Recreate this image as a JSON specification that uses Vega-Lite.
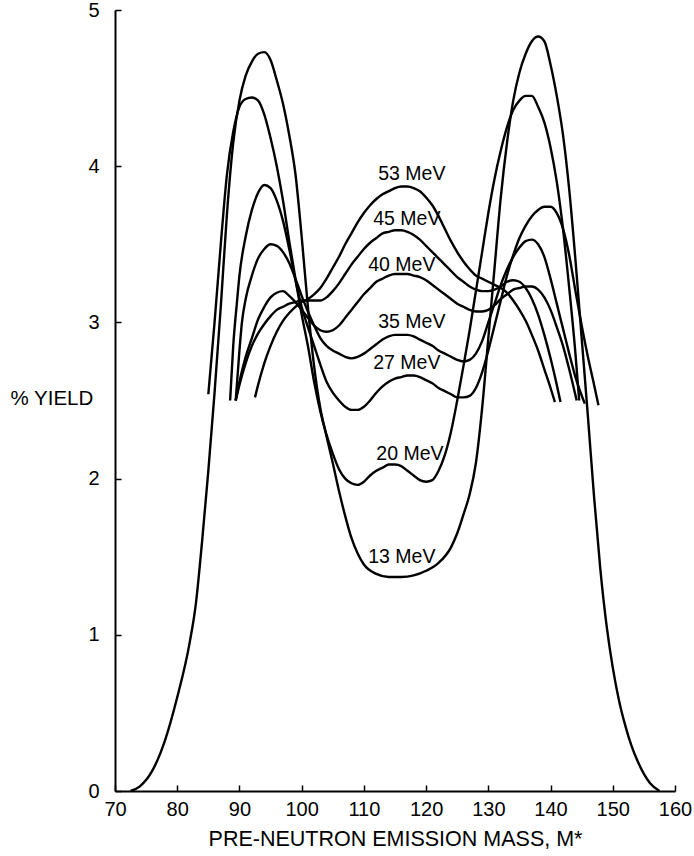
{
  "$schema": "https://vega.github.io/schema/vega-lite/v6.json",
  "width": 560,
  "height": 781,
  "autosize": "none",
  "padding": {"left": 115, "top": 10, "right": 19, "bottom": 65},
  "background": "white",
  "config": {"view": {"stroke": null}, "font": "Liberation Sans"},
  "datasets": {
    "curves": [
      {"c":"13","m":72.5,"v":0},{"c":"13","m":74,"v":0.03},{"c":"13","m":76,"v":0.13},{"c":"13","m":78,"v":0.32},{"c":"13","m":80,"v":0.6},{"c":"13","m":82,"v":0.95},{"c":"13","m":83,"v":1.2},{"c":"13","m":84,"v":1.6},{"c":"13","m":85,"v":2.05},{"c":"13","m":86,"v":2.55},{"c":"13","m":87,"v":3.1},{"c":"13","m":88,"v":3.7},{"c":"13","m":89,"v":4.15},{"c":"13","m":90,"v":4.42},{"c":"13","m":91,"v":4.58},{"c":"13","m":92,"v":4.67},{"c":"13","m":93,"v":4.72},{"c":"13","m":94,"v":4.73},{"c":"13","m":95,"v":4.68},{"c":"13","m":96,"v":4.55},{"c":"13","m":97,"v":4.4},{"c":"13","m":98,"v":4.2},{"c":"13","m":99,"v":3.95},{"c":"13","m":100,"v":3.55},{"c":"13","m":101,"v":3.1},{"c":"13","m":102,"v":2.72},{"c":"13","m":103,"v":2.45},{"c":"13","m":104,"v":2.27},{"c":"13","m":105,"v":2.1},{"c":"13","m":106,"v":1.92},{"c":"13","m":107,"v":1.76},{"c":"13","m":108,"v":1.62},{"c":"13","m":109,"v":1.52},{"c":"13","m":110,"v":1.45},{"c":"13","m":112,"v":1.39},{"c":"13","m":114,"v":1.37},{"c":"13","m":116,"v":1.37},{"c":"13","m":118,"v":1.38},{"c":"13","m":120,"v":1.41},{"c":"13","m":122,"v":1.46},{"c":"13","m":124,"v":1.56},{"c":"13","m":125,"v":1.65},{"c":"13","m":126,"v":1.77},{"c":"13","m":127,"v":1.9},{"c":"13","m":128,"v":2.1},{"c":"13","m":129,"v":2.45},{"c":"13","m":130,"v":2.9},{"c":"13","m":131,"v":3.35},{"c":"13","m":132,"v":3.8},{"c":"13","m":133,"v":4.15},{"c":"13","m":134,"v":4.42},{"c":"13","m":135,"v":4.6},{"c":"13","m":136,"v":4.72},{"c":"13","m":137,"v":4.8},{"c":"13","m":138,"v":4.83},{"c":"13","m":139,"v":4.8},{"c":"13","m":140,"v":4.65},{"c":"13","m":141,"v":4.45},{"c":"13","m":142,"v":4.2},{"c":"13","m":143,"v":3.85},{"c":"13","m":144,"v":3.4},{"c":"13","m":145,"v":2.9},{"c":"13","m":146,"v":2.4},{"c":"13","m":147,"v":1.88},{"c":"13","m":148,"v":1.42},{"c":"13","m":149,"v":1.06},{"c":"13","m":150,"v":0.79},{"c":"13","m":151,"v":0.58},{"c":"13","m":152,"v":0.42},{"c":"13","m":153,"v":0.29},{"c":"13","m":154,"v":0.19},{"c":"13","m":155,"v":0.11},{"c":"13","m":156,"v":0.05},{"c":"13","m":157.5,"v":0},

      {"c":"20","m":85,"v":2.54},{"c":"20","m":86,"v":3.0},{"c":"20","m":87,"v":3.5},{"c":"20","m":88,"v":3.95},{"c":"20","m":89,"v":4.22},{"c":"20","m":90,"v":4.38},{"c":"20","m":91,"v":4.43},{"c":"20","m":92,"v":4.44},{"c":"20","m":93,"v":4.42},{"c":"20","m":94,"v":4.33},{"c":"20","m":95,"v":4.18},{"c":"20","m":96,"v":4.0},{"c":"20","m":97,"v":3.78},{"c":"20","m":98,"v":3.52},{"c":"20","m":99,"v":3.28},{"c":"20","m":100,"v":3.05},{"c":"20","m":101,"v":2.85},{"c":"20","m":102,"v":2.62},{"c":"20","m":103,"v":2.43},{"c":"20","m":104,"v":2.28},{"c":"20","m":105,"v":2.16},{"c":"20","m":106,"v":2.06},{"c":"20","m":107,"v":2.0},{"c":"20","m":108,"v":1.97},{"c":"20","m":109,"v":1.96},{"c":"20","m":110,"v":1.98},{"c":"20","m":111,"v":2.02},{"c":"20","m":112,"v":2.05},{"c":"20","m":113,"v":2.07},{"c":"20","m":114,"v":2.09},{"c":"20","m":115,"v":2.09},{"c":"20","m":116,"v":2.08},{"c":"20","m":117,"v":2.05},{"c":"20","m":118,"v":2.02},{"c":"20","m":119,"v":1.99},{"c":"20","m":120,"v":1.98},{"c":"20","m":121,"v":1.99},{"c":"20","m":122,"v":2.05},{"c":"20","m":123,"v":2.15},{"c":"20","m":124,"v":2.3},{"c":"20","m":125,"v":2.5},{"c":"20","m":126,"v":2.72},{"c":"20","m":127,"v":2.95},{"c":"20","m":128,"v":3.2},{"c":"20","m":129,"v":3.45},{"c":"20","m":130,"v":3.7},{"c":"20","m":131,"v":3.92},{"c":"20","m":132,"v":4.1},{"c":"20","m":133,"v":4.25},{"c":"20","m":134,"v":4.36},{"c":"20","m":135,"v":4.42},{"c":"20","m":136,"v":4.45},{"c":"20","m":137,"v":4.45},{"c":"20","m":138,"v":4.38},{"c":"20","m":139,"v":4.28},{"c":"20","m":140,"v":4.12},{"c":"20","m":141,"v":3.9},{"c":"20","m":142,"v":3.6},{"c":"20","m":143,"v":3.22},{"c":"20","m":144,"v":2.8},{"c":"20","m":144.6,"v":2.5},

      {"c":"27","m":88.5,"v":2.5},{"c":"27","m":89,"v":2.85},{"c":"27","m":89.6,"v":3.13},{"c":"27","m":90,"v":3.3},{"c":"27","m":91,"v":3.55},{"c":"27","m":92,"v":3.72},{"c":"27","m":93,"v":3.83},{"c":"27","m":94,"v":3.88},{"c":"27","m":95,"v":3.86},{"c":"27","m":96,"v":3.78},{"c":"27","m":97,"v":3.65},{"c":"27","m":98,"v":3.47},{"c":"27","m":99,"v":3.27},{"c":"27","m":100,"v":3.1},{"c":"27","m":101,"v":2.97},{"c":"27","m":102,"v":2.85},{"c":"27","m":103,"v":2.73},{"c":"27","m":104,"v":2.62},{"c":"27","m":105,"v":2.55},{"c":"27","m":106,"v":2.5},{"c":"27","m":107,"v":2.46},{"c":"27","m":108,"v":2.44},{"c":"27","m":109,"v":2.44},{"c":"27","m":110,"v":2.46},{"c":"27","m":111,"v":2.5},{"c":"27","m":112,"v":2.55},{"c":"27","m":113,"v":2.59},{"c":"27","m":114,"v":2.62},{"c":"27","m":115,"v":2.64},{"c":"27","m":116,"v":2.65},{"c":"27","m":117,"v":2.66},{"c":"27","m":118,"v":2.66},{"c":"27","m":119,"v":2.65},{"c":"27","m":120,"v":2.63},{"c":"27","m":121,"v":2.61},{"c":"27","m":122,"v":2.58},{"c":"27","m":123,"v":2.56},{"c":"27","m":124,"v":2.54},{"c":"27","m":125,"v":2.52},{"c":"27","m":126,"v":2.52},{"c":"27","m":127,"v":2.53},{"c":"27","m":128,"v":2.58},{"c":"27","m":129,"v":2.68},{"c":"27","m":130,"v":2.82},{"c":"27","m":131,"v":2.98},{"c":"27","m":132,"v":3.14},{"c":"27","m":133,"v":3.3},{"c":"27","m":134,"v":3.43},{"c":"27","m":135,"v":3.54},{"c":"27","m":136,"v":3.62},{"c":"27","m":137,"v":3.68},{"c":"27","m":138,"v":3.72},{"c":"27","m":139,"v":3.74},{"c":"27","m":140,"v":3.74},{"c":"27","m":141,"v":3.7},{"c":"27","m":142,"v":3.6},{"c":"27","m":143,"v":3.43},{"c":"27","m":144,"v":3.2},{"c":"27","m":145,"v":2.98},{"c":"27","m":146,"v":2.78},{"c":"27","m":147,"v":2.6},{"c":"27","m":147.7,"v":2.47},

      {"c":"35","m":89.4,"v":2.5},{"c":"35","m":90,"v":2.82},{"c":"35","m":90.4,"v":3.0},{"c":"35","m":91,"v":3.15},{"c":"35","m":92,"v":3.3},{"c":"35","m":93,"v":3.41},{"c":"35","m":94,"v":3.47},{"c":"35","m":95,"v":3.5},{"c":"35","m":96,"v":3.49},{"c":"35","m":97,"v":3.45},{"c":"35","m":98,"v":3.38},{"c":"35","m":99,"v":3.28},{"c":"35","m":100,"v":3.17},{"c":"35","m":101,"v":3.07},{"c":"35","m":102,"v":2.98},{"c":"35","m":103,"v":2.9},{"c":"35","m":104,"v":2.85},{"c":"35","m":105,"v":2.82},{"c":"35","m":106,"v":2.8},{"c":"35","m":107,"v":2.78},{"c":"35","m":108,"v":2.77},{"c":"35","m":109,"v":2.78},{"c":"35","m":110,"v":2.8},{"c":"35","m":111,"v":2.83},{"c":"35","m":112,"v":2.86},{"c":"35","m":113,"v":2.89},{"c":"35","m":114,"v":2.91},{"c":"35","m":115,"v":2.92},{"c":"35","m":116,"v":2.92},{"c":"35","m":117,"v":2.92},{"c":"35","m":118,"v":2.91},{"c":"35","m":119,"v":2.89},{"c":"35","m":120,"v":2.87},{"c":"35","m":121,"v":2.85},{"c":"35","m":122,"v":2.82},{"c":"35","m":123,"v":2.8},{"c":"35","m":124,"v":2.78},{"c":"35","m":125,"v":2.76},{"c":"35","m":126,"v":2.75},{"c":"35","m":127,"v":2.76},{"c":"35","m":128,"v":2.8},{"c":"35","m":129,"v":2.88},{"c":"35","m":130,"v":3.0},{"c":"35","m":131,"v":3.12},{"c":"35","m":132,"v":3.24},{"c":"35","m":133,"v":3.34},{"c":"35","m":134,"v":3.42},{"c":"35","m":135,"v":3.48},{"c":"35","m":136,"v":3.52},{"c":"35","m":137,"v":3.53},{"c":"35","m":138,"v":3.5},{"c":"35","m":139,"v":3.42},{"c":"35","m":140,"v":3.28},{"c":"35","m":141,"v":3.12},{"c":"35","m":142,"v":2.96},{"c":"35","m":143,"v":2.8},{"c":"35","m":144,"v":2.65},{"c":"35","m":145.5,"v":2.48},

      {"c":"40","m":89.4,"v":2.5},{"c":"40","m":90,"v":2.62},{"c":"40","m":91,"v":2.78},{"c":"40","m":92,"v":2.9},{"c":"40","m":93,"v":3.02},{"c":"40","m":94,"v":3.1},{"c":"40","m":95,"v":3.16},{"c":"40","m":96,"v":3.19},{"c":"40","m":97,"v":3.2},{"c":"40","m":98,"v":3.17},{"c":"40","m":99,"v":3.13},{"c":"40","m":100,"v":3.08},{"c":"40","m":101,"v":3.03},{"c":"40","m":102,"v":2.98},{"c":"40","m":103,"v":2.95},{"c":"40","m":104,"v":2.94},{"c":"40","m":105,"v":2.95},{"c":"40","m":106,"v":2.98},{"c":"40","m":107,"v":3.03},{"c":"40","m":108,"v":3.08},{"c":"40","m":109,"v":3.13},{"c":"40","m":110,"v":3.18},{"c":"40","m":111,"v":3.22},{"c":"40","m":112,"v":3.26},{"c":"40","m":113,"v":3.28},{"c":"40","m":114,"v":3.3},{"c":"40","m":115,"v":3.31},{"c":"40","m":116,"v":3.31},{"c":"40","m":117,"v":3.31},{"c":"40","m":118,"v":3.3},{"c":"40","m":119,"v":3.29},{"c":"40","m":120,"v":3.27},{"c":"40","m":121,"v":3.24},{"c":"40","m":122,"v":3.21},{"c":"40","m":123,"v":3.18},{"c":"40","m":124,"v":3.15},{"c":"40","m":125,"v":3.12},{"c":"40","m":126,"v":3.1},{"c":"40","m":127,"v":3.08},{"c":"40","m":128,"v":3.07},{"c":"40","m":129,"v":3.07},{"c":"40","m":130,"v":3.08},{"c":"40","m":131,"v":3.11},{"c":"40","m":132,"v":3.15},{"c":"40","m":133,"v":3.18},{"c":"40","m":134,"v":3.21},{"c":"40","m":135,"v":3.22},{"c":"40","m":136,"v":3.23},{"c":"40","m":137,"v":3.23},{"c":"40","m":138,"v":3.21},{"c":"40","m":139,"v":3.16},{"c":"40","m":140,"v":3.08},{"c":"40","m":141,"v":2.97},{"c":"40","m":142,"v":2.85},{"c":"40","m":143,"v":2.7},{"c":"40","m":144.2,"v":2.5},

      {"c":"45","m":89.4,"v":2.5},{"c":"45","m":90,"v":2.6},{"c":"45","m":91,"v":2.74},{"c":"45","m":92,"v":2.85},{"c":"45","m":93,"v":2.93},{"c":"45","m":94,"v":2.99},{"c":"45","m":95,"v":3.04},{"c":"45","m":96,"v":3.08},{"c":"45","m":97,"v":3.1},{"c":"45","m":98,"v":3.12},{"c":"45","m":99,"v":3.13},{"c":"45","m":100,"v":3.14},{"c":"45","m":101,"v":3.14},{"c":"45","m":102,"v":3.14},{"c":"45","m":103,"v":3.14},{"c":"45","m":104,"v":3.16},{"c":"45","m":105,"v":3.2},{"c":"45","m":106,"v":3.25},{"c":"45","m":107,"v":3.31},{"c":"45","m":108,"v":3.37},{"c":"45","m":109,"v":3.42},{"c":"45","m":110,"v":3.47},{"c":"45","m":111,"v":3.51},{"c":"45","m":112,"v":3.54},{"c":"45","m":113,"v":3.57},{"c":"45","m":114,"v":3.58},{"c":"45","m":115,"v":3.59},{"c":"45","m":116,"v":3.59},{"c":"45","m":117,"v":3.58},{"c":"45","m":118,"v":3.56},{"c":"45","m":119,"v":3.53},{"c":"45","m":120,"v":3.49},{"c":"45","m":121,"v":3.45},{"c":"45","m":122,"v":3.41},{"c":"45","m":123,"v":3.37},{"c":"45","m":124,"v":3.33},{"c":"45","m":125,"v":3.29},{"c":"45","m":126,"v":3.26},{"c":"45","m":127,"v":3.23},{"c":"45","m":128,"v":3.21},{"c":"45","m":129,"v":3.2},{"c":"45","m":130,"v":3.2},{"c":"45","m":131,"v":3.21},{"c":"45","m":132,"v":3.23},{"c":"45","m":133,"v":3.26},{"c":"45","m":134,"v":3.27},{"c":"45","m":135,"v":3.26},{"c":"45","m":136,"v":3.22},{"c":"45","m":137,"v":3.15},{"c":"45","m":138,"v":3.05},{"c":"45","m":139,"v":2.92},{"c":"45","m":140,"v":2.77},{"c":"45","m":141,"v":2.6},{"c":"45","m":141.6,"v":2.49},

      {"c":"53","m":92.5,"v":2.52},{"c":"53","m":93,"v":2.6},{"c":"53","m":94,"v":2.74},{"c":"53","m":95,"v":2.85},{"c":"53","m":96,"v":2.94},{"c":"53","m":97,"v":3.01},{"c":"53","m":98,"v":3.06},{"c":"53","m":99,"v":3.1},{"c":"53","m":100,"v":3.13},{"c":"53","m":101,"v":3.15},{"c":"53","m":102,"v":3.18},{"c":"53","m":103,"v":3.22},{"c":"53","m":104,"v":3.28},{"c":"53","m":105,"v":3.35},{"c":"53","m":106,"v":3.42},{"c":"53","m":107,"v":3.5},{"c":"53","m":108,"v":3.57},{"c":"53","m":109,"v":3.64},{"c":"53","m":110,"v":3.7},{"c":"53","m":111,"v":3.75},{"c":"53","m":112,"v":3.79},{"c":"53","m":113,"v":3.82},{"c":"53","m":114,"v":3.84},{"c":"53","m":115,"v":3.86},{"c":"53","m":116,"v":3.87},{"c":"53","m":117,"v":3.87},{"c":"53","m":118,"v":3.86},{"c":"53","m":119,"v":3.84},{"c":"53","m":120,"v":3.8},{"c":"53","m":121,"v":3.75},{"c":"53","m":122,"v":3.68},{"c":"53","m":123,"v":3.6},{"c":"53","m":124,"v":3.52},{"c":"53","m":125,"v":3.45},{"c":"53","m":126,"v":3.39},{"c":"53","m":127,"v":3.34},{"c":"53","m":128,"v":3.3},{"c":"53","m":129,"v":3.28},{"c":"53","m":130,"v":3.26},{"c":"53","m":131,"v":3.24},{"c":"53","m":132,"v":3.22},{"c":"53","m":133,"v":3.19},{"c":"53","m":134,"v":3.14},{"c":"53","m":135,"v":3.08},{"c":"53","m":136,"v":3.01},{"c":"53","m":137,"v":2.92},{"c":"53","m":138,"v":2.82},{"c":"53","m":139,"v":2.7},{"c":"53","m":140,"v":2.58},{"c":"53","m":140.7,"v":2.49}
    ],
    "labels": [
      {"t":"53 MeV","m":117.7,"v":3.95},
      {"t":"45 MeV","m":116.9,"v":3.66},
      {"t":"40 MeV","m":116.1,"v":3.37},
      {"t":"35 MeV","m":117.7,"v":3.0},
      {"t":"27 MeV","m":116.9,"v":2.74},
      {"t":"20 MeV","m":117.4,"v":2.16},
      {"t":"13 MeV","m":116.1,"v":1.5}
    ]
  },
  "layer": [
    {
      "data": {"name": "curves"},
      "mark": {"type": "line", "interpolate": "monotone", "color": "black", "strokeWidth": 2.4},
      "encoding": {
        "x": {"field": "m", "type": "quantitative", "scale": {"domain": [70, 160], "nice": false},
          "axis": {"title": "PRE-NEUTRON EMISSION MASS, M*", "values": [70,80,90,100,110,120,130,140,150,160], "grid": false, "format": "d",
            "domainColor": "black", "domainWidth": 2, "tickColor": "black", "tickWidth": 1.5, "tickSize": -6,
            "labelFontSize": 20, "labelColor": "black", "labelPadding": 14, "labelFont": "Liberation Sans", "labelFlush": false,
            "titleFontSize": 21.5, "titleFontWeight": "normal", "titleColor": "black", "titleFont": "Liberation Sans", "titleBaseline": "middle", "titleY": 48}},
        "y": {"field": "v", "type": "quantitative", "scale": {"domain": [0, 5], "nice": false},
          "axis": {"title": "% YIELD", "values": [0,1,2,3,4,5], "grid": false, "format": "d",
            "domainColor": "black", "domainWidth": 2, "tickColor": "black", "tickWidth": 1.5, "tickSize": -6,
            "labelFontSize": 20, "labelColor": "black", "labelPadding": 22, "labelFont": "Liberation Sans", "labelFlush": false,
            "titleFontSize": 20.5, "titleFontWeight": "normal", "titleColor": "black", "titleFont": "Liberation Sans",
            "titleAngle": 0, "titleAlign": "left", "titleBaseline": "middle", "titleX": -105, "titleY": 388}},
        "detail": {"field": "c", "type": "nominal"}
      }
    },
    {
      "data": {"name": "labels"},
      "mark": {"type": "text", "fontSize": 19.5, "font": "Liberation Sans", "color": "black", "baseline": "middle", "align": "center"},
      "encoding": {
        "x": {"field": "m", "type": "quantitative"},
        "y": {"field": "v", "type": "quantitative"},
        "text": {"field": "t", "type": "nominal"}
      }
    }
  ]
}
